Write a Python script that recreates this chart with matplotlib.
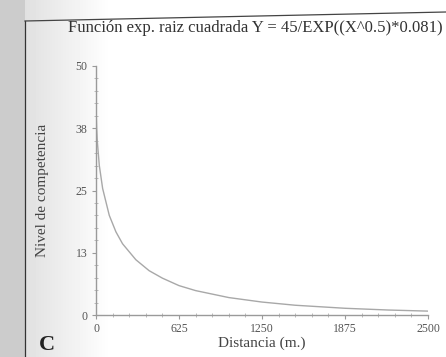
import numpy as np
import matplotlib
matplotlib.use("Agg")
import matplotlib.pyplot as plt
from matplotlib.lines import Line2D
from matplotlib.ticker import MultipleLocator, FixedLocator

# values
distancia = [0, 1, 2, 5, 10, 25, 50, 100, 150, 200, 300, 400, 500, 625,
             750, 1000, 1250, 1500, 1875, 2200, 2500]
nivel = [45.0, 41.5, 40.1, 37.5, 34.8, 30.0, 25.4, 20.0, 16.7, 14.3, 11.1,
         8.9, 7.4, 5.9, 4.9, 3.5, 2.6, 1.96, 1.35, 1.0, 0.78]

x_ticks = [0, 625, 1250, 1875, 2500]
x_labels = ["0", "625", "1250", "1875", "2500"]
y_ticks = [0, 12.5, 25, 37.5, 50]
y_labels = ["0", "13", "25", "38", "50"]

titulo = "Función exp. raiz cuadrada Y = 45/EXP((X^0.5)*0.081)"

plt.rcParams["font.family"] = ["Liberation Serif", "DejaVu Serif"]

fig = plt.figure(figsize=(4.46, 3.57), dpi=100)
fig.patch.set_facecolor("white")

# scanned page shading on the left
bg = fig.add_axes([0, 0, 1, 1], zorder=-10)
W = 446
grad = np.ones((10, W))
cols = np.arange(W)
grad[:, cols < 25] = 0.80
mask = (cols >= 25) & (cols < 110)
grad[:, mask] = 0.88 + 0.12 * (cols[mask] - 25) / 85.0
bg.imshow(grad, cmap="gray", vmin=0, vmax=1, aspect="auto",
          extent=[0, 1, 0, 1])
bg.set_axis_off()

# outer frame lines
fig.add_artist(Line2D([25 / W, 25 / W], [0, 1 - 21 / 357.0],
                      color="#333333", lw=0.9, transform=fig.transFigure))
fig.add_artist(Line2D([25 / W, 1], [1 - 21 / 357.0, 1 - 12 / 357.0],
                      color="#444444", lw=0.9, transform=fig.transFigure))

ax = fig.add_axes([96 / W, 42 / 357.0, 332 / W, 249 / 357.0])
ax.patch.set_alpha(0)
ax.plot(distancia, nivel, color="#a8a8a8", lw=1.0)

ax.set_xlim(0, 2500)
ax.set_ylim(0, 50)
for s in ["top", "right"]:
    ax.spines[s].set_visible(False)
for s in ["left", "bottom"]:
    ax.spines[s].set_color("#9a9a9a")
    ax.spines[s].set_linewidth(1.0)

ax.xaxis.set_major_locator(FixedLocator(x_ticks))
ax.set_xticklabels(x_labels)
ax.yaxis.set_major_locator(FixedLocator(y_ticks))
ax.set_yticklabels(y_labels)
ax.xaxis.set_minor_locator(MultipleLocator(125))
ax.yaxis.set_minor_locator(MultipleLocator(2.5))
ax.tick_params(which="major", direction="out", length=3, color="#9a9a9a",
               labelsize=8.5, labelcolor="#555555", pad=3)
ax.tick_params(which="minor", direction="inout", length=3, color="#b0b0b0")

ax.set_xlabel("Distancia (m.)", fontsize=11, color="#444444", labelpad=1)
ax.set_ylabel("Nivel de competencia", fontsize=11, color="#444444",
              labelpad=19)

fig.text(68 / W, 1 - 28 / 357.0, titulo, fontsize=12, color="#333333",
         ha="left", va="center")
fig.text(47 / W, 1 - 345 / 357.0, "C", fontsize=16, fontweight="bold",
         color="#222222", ha="center", va="center")

fig.savefig("out.png", dpi=100, facecolor=fig.get_facecolor())
